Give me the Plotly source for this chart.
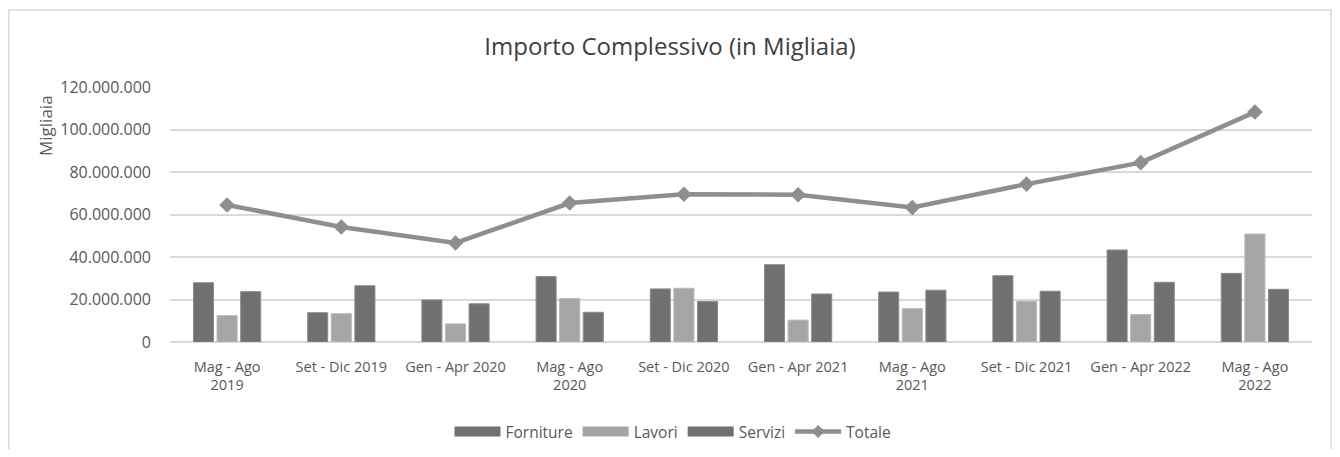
import plotly.graph_objects as go

categories = ["Mag - Ago<br>2019", "Set - Dic 2019", "Gen - Apr 2020", "Mag - Ago<br>2020",
              "Set - Dic 2020", "Gen - Apr 2021", "Mag - Ago<br>2021", "Set - Dic 2021",
              "Gen - Apr 2022", "Mag - Ago<br>2022"]
forniture = [27.9e6, 13.8e6, 19.8e6, 30.8e6, 25.0e6, 36.4e6, 23.5e6, 31.2e6, 43.3e6, 32.3e6]
lavori = [12.4e6, 13.3e6, 8.5e6, 20.5e6, 25.3e6, 10.3e6, 15.7e6, 19.2e6, 12.9e6, 50.8e6]
servizi = [23.7e6, 26.5e6, 18.0e6, 14.0e6, 19.1e6, 22.6e6, 24.4e6, 23.9e6, 28.1e6, 24.8e6]
totale = [64.5e6, 54.1e6, 46.6e6, 65.4e6, 69.5e6, 69.3e6, 63.3e6, 74.3e6, 84.4e6, 108.2e6]
y_ticks = [0, 20e6, 40e6, 60e6, 80e6, 100e6, 120e6]

font = "Open Sans, Noto Sans, sans-serif"
dark = "#707070"
light = "#a5a5a5"
line_col = "#8e8e8e"

W, H = 1324, 441          # page body has an 8px margin
L, T, PW, PH = 162, 79, 1142, 255

fig = go.Figure()
fig.add_trace(go.Bar(name="Forniture", x=categories, y=forniture, showlegend=False,
                     marker=dict(color=dark, line=dict(color="#8c8c8c", width=1))))
fig.add_trace(go.Bar(name="Lavori", x=categories, y=lavori, showlegend=False,
                     marker=dict(color=light, line=dict(color="#b8b8b8", width=1))))
fig.add_trace(go.Bar(name="Servizi", x=categories, y=servizi, showlegend=False,
                     marker=dict(color=dark, line=dict(color="#8c8c8c", width=1))))
fig.add_trace(go.Scatter(name="Totale", x=categories, y=totale, mode="lines+markers",
                         showlegend=False,
                         line=dict(color=line_col, width=4.5),
                         marker=dict(symbol="diamond", size=12, color=line_col)))

# legend entries (wide rectangle swatches like the original)
for nm, col in [("Forniture", dark), ("Lavori", light), ("Servizi", dark)]:
    fig.add_trace(go.Scatter(name=nm, x=[None], y=[None], mode="lines",
                             line=dict(color=col, width=10), showlegend=True))
fig.add_trace(go.Scatter(name="Totale", x=[None], y=[None], mode="lines+markers",
                         line=dict(color=line_col, width=4.5),
                         marker=dict(symbol="diamond", size=10, color=line_col), showlegend=True))


def px_x(sx):
    return (sx - 8 - L) / PW


def px_y(sy):
    return (T + PH - (sy - 8)) / PH


fig.update_layout(
    width=W, height=H,
    margin=dict(l=L, r=W - L - PW, t=T, b=H - T - PH, autoexpand=False),
    paper_bgcolor="white", plot_bgcolor="white",
    separators=",.",
    barmode="group", bargap=0.38, bargroupgap=0.15,
    font=dict(family=font, size=14, color="#595959"),
    title=dict(text="Importo Complessivo (in Migliaia)", x=(670 - 8) / W, xanchor="center",
               y=1 - 39 / H, yanchor="middle",
               font=dict(family=font, size=24, color="#404040")),
    legend=dict(orientation="h", x=px_x(673), xanchor="center", y=px_y(432), yanchor="middle",
                font=dict(family=font, size=15.5, color="#595959"),
                itemwidth=46, tracegroupgap=0, traceorder="normal"),
    showlegend=True,
    xaxis=dict(type="category", range=[-0.5, len(categories) - 0.5], autorange=False,
               showgrid=False, showline=False, ticks="",
               ticklabelstandoff=14,
               tickfont=dict(family=font, size=14.5, color="#595959")),
    yaxis=dict(range=[0, 120e6], tickvals=y_ticks, tickformat=",.0f",
               showgrid=True, gridcolor="#d9d9d9", gridwidth=1.5,
               zeroline=True, zerolinecolor="#d9d9d9", zerolinewidth=1.5,
               ticks="", ticklabelstandoff=18,
               tickfont=dict(family=font, size=16, color="#595959")),
    annotations=[dict(text="Migliaia", textangle=-90, xref="paper", yref="paper",
                      x=px_x(45), y=px_y(126), xanchor="center", yanchor="middle",
                      showarrow=False, font=dict(family=font, size=17, color="#595959"))],
    shapes=[dict(type="rect", xref="paper", yref="paper",
                 x0=px_x(8.8), x1=px_x(1331),
                 y0=px_y(470), y1=px_y(10),
                 line=dict(color="#d9d9d9", width=1.5), layer="below")],
)

fig.write_html("out.html")
